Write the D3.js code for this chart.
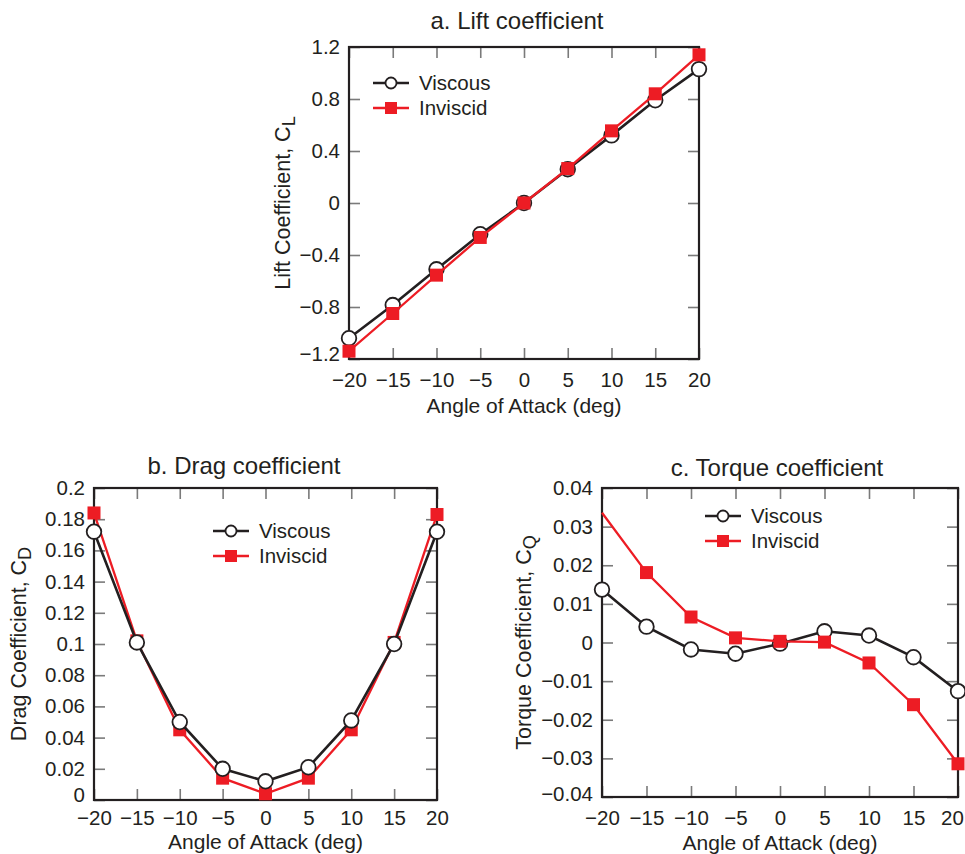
<!DOCTYPE html>
<html>
<head>
<meta charset="utf-8">
<script src="https://cdn.jsdelivr.net/npm/d3@7"></script>
<style>
  body { margin: 0; background: #fff; }
  svg { display: block; font-family: "Liberation Sans", Arial, sans-serif; }
</style>
</head>
<body>
<div id="chart"></div>
<script>
// angle of attack, deg
const angles = [-20, -15, -10, -5, 0, 5, 10, 15, 20];

const liftViscous = [-1.04, -0.785, -0.51, -0.24, 0, 0.26, 0.52, 0.79, 1.03];
const liftInviscid = [-1.14, -0.85, -0.555, -0.265, 0, 0.265, 0.555, 0.84, 1.14];
const dragViscous = [0.172, 0.101, 0.050, 0.020, 0.012, 0.021, 0.051, 0.100, 0.172];
const dragInviscid = [0.184, 0.102, 0.045, 0.014, 0.004, 0.014, 0.045, 0.101, 0.183];
const torqueViscous = [0.0137, 0.0041, -0.0018, -0.0029, -0.0003, 0.0029, 0.0018, -0.0038, -0.0126];
const torqueInviscid = [0.0336, 0.0181, 0.0066, 0.0012, 0.0003, 0.0001, -0.0053, -0.0161, -0.0314];

const xTicks = [-20, -15, -10, -5, 0, 5, 10, 15, 20];
const liftTicks = [-1.2, -0.8, -0.4, 0, 0.4, 0.8, 1.2];
const dragTicks = [0, 0.02, 0.04, 0.06, 0.08, 0.1, 0.12, 0.14, 0.16, 0.18, 0.2];
const torqueTicks = [-0.04, -0.03, -0.02, -0.01, 0, 0.01, 0.02, 0.03, 0.04];

const seriesNames = ['Viscous', 'Inviscid'];

const ink = '#231f20';
const red = '#ed1c24';
const tickGray = '#7a7a7a';

const svg = d3.select('#chart').append('svg')
  .attr('width', 965)
  .attr('height', 854);

const panels = [
  {title: 'a. Lift coefficient', sub: 'L', name: 'Lift Coefficient, C',
   left: 349, top: 47, width: 350, height: 312, domain: [-1.2, 1.2], ticks: liftTicks,
   viscous: liftViscous, inviscid: liftInviscid, titleX: 517, titleY: 29, yLabelOff: 67,
   xPad: 13, xLabelOff: 54, lastShift: 0, firstLift: -5,
   legend: [373, 83], viscousOnTop: false, skip: []},
  {title: 'b. Drag coefficient', sub: 'D', name: 'Drag Coefficient, C',
   left: 94, top: 488, width: 343, height: 312, domain: [0, 0.2], ticks: dragTicks,
   viscous: dragViscous, inviscid: dragInviscid, titleX: 244, titleY: 474, yLabelOff: 76,
   xPad: 10, xLabelOff: 49, lastShift: 0, firstLift: -5,
   legend: [213, 531], viscousOnTop: true, skip: []},
  {title: 'c. Torque coefficient', sub: 'Q', name: 'Torque Coefficient, C',
   left: 602, top: 488, width: 356, height: 309, domain: [-0.04, 0.04], ticks: torqueTicks,
   viscous: torqueViscous, inviscid: torqueInviscid, titleX: 777, titleY: 476, yLabelOff: 79,
   xPad: 13, xLabelOff: 53, lastShift: -6, firstLift: -3,
   legend: [705, 516], viscousOnTop: false, skip: [0]}
];

const fmt = d3.format('~g');

let drawPanel = (p) => {
  const g = svg.append('g')
    .attr('transform', 'translate(' + p.left + ',' + p.top + ')');

  const x = d3.scaleLinear().domain([-20, 20]).range([0, p.width]);
  const y = d3.scaleLinear().domain(p.domain).range([p.height, 0]);

  // inward ticks on all four sides
  const axes = [
    {ax: d3.axisBottom(x).tickValues(xTicks).tickFormat(fmt).tickPadding(p.xPad), t: [0, p.height], side: 'b'},
    {ax: d3.axisTop(x).tickValues(xTicks).tickFormat(''), t: [0, 0]},
    {ax: d3.axisLeft(y).tickValues(p.ticks).tickFormat(fmt).tickPadding(9), t: [0, 0], side: 'l'},
    {ax: d3.axisRight(y).tickValues(p.ticks).tickFormat(''), t: [p.width, 0]}
  ];
  axes.forEach(a => {
    const ag = g.append('g')
      .attr('transform', 'translate(' + a.t[0] + ',' + a.t[1] + ')')
      .call(a.ax.tickSizeInner(-11).tickSizeOuter(0));
    ag.select('.domain').remove();
    ag.selectAll('line').attr('stroke', tickGray).attr('stroke-width', 1.6);
    ag.selectAll('text')
      .style('font-size', '20.5px')
      .attr('fill', ink)
      .style('font-family', '"Liberation Sans", Arial, sans-serif');
    if (a.side === 'b') {
      ag.selectAll('text').filter(d => d === 20).attr('dx', p.lastShift);
    }
    if (a.side === 'l') {
      // lowest label sits a little above the corner
      ag.selectAll('text').filter(d => d === p.domain[0]).attr('y', p.firstLift);
    }
  });

  g.append('rect')
    .attr('width', p.width)
    .attr('height', p.height)
    .attr('fill', 'none')
    .attr('stroke', ink)
    .attr('stroke-width', 2.2);

  // titles and labels
  svg.append('text')
    .attr('x', p.titleX)
    .attr('y', p.titleY)
    .attr('text-anchor', 'middle')
    .attr('fill', ink)
    .style('font-size', '24px')
    .text(p.title);

  g.append('text')
    .attr('x', p.width / 2)
    .attr('y', p.height + p.xLabelOff)
    .attr('text-anchor', 'middle')
    .attr('fill', ink)
    .style('font-size', '21px')
    .text('Angle of Attack (deg)');

  const yl = g.append('text')
    .attr('transform', 'translate(' + (-p.yLabelOff) + ',' + (p.height / 2) + ') rotate(-90)')
    .attr('text-anchor', 'middle')
    .attr('dy', '0.35em')
    .attr('fill', ink)
    .style('font-size', '21.5px');
  yl.append('tspan').text(p.name);
  yl.append('tspan').attr('dy', '0.3em').style('font-size', '18px').text(p.sub);

  const line = d3.line().x((d, i) => x(angles[i])).y(d => y(d));

  let drawViscous = () => {
    g.append('path')
      .datum(p.viscous)
      .attr('d', line)
      .attr('fill', 'none')
      .attr('stroke', ink)
      .attr('stroke-width', 2.6);
    g.selectAll('.vc')
      .data(p.viscous)
      .enter().append('circle')
      .attr('class', 'vc')
      .attr('cx', (d, i) => x(angles[i]))
      .attr('cy', d => y(d))
      .attr('r', 7.3)
      .attr('fill', '#fff')
      .attr('stroke', ink)
      .attr('stroke-width', 1.8);
  };

  let drawInviscid = () => {
    g.append('path')
      .datum(p.inviscid)
      .attr('d', line)
      .attr('fill', 'none')
      .attr('stroke', red)
      .attr('stroke-width', 2.3);
    g.selectAll('.iv')
      .data(p.inviscid.map((v, i) => ({v, i})).filter(d => p.skip.indexOf(d.i) < 0))
      .enter().append('rect')
      .attr('class', 'iv')
      .attr('x', d => x(angles[d.i]) - 6.5)
      .attr('y', d => y(d.v) - 6.5)
      .attr('width', 13)
      .attr('height', 13)
      .attr('fill', red);
  };

  if (p.viscousOnTop) { drawInviscid(); drawViscous(); }
  else { drawViscous(); drawInviscid(); }

  // legend
  const lg = svg.append('g')
    .attr('transform', 'translate(' + p.legend[0] + ',' + p.legend[1] + ')');
  seriesNames.forEach((name, k) => {
    const row = lg.append('g').attr('transform', 'translate(0,' + (k * 25) + ')');
    row.append('line')
      .attr('x1', 0).attr('x2', 36)
      .attr('stroke', k === 0 ? ink : red)
      .attr('stroke-width', k === 0 ? 2.6 : 2.3);
    if (k === 0) {
      row.append('circle')
        .attr('cx', 18).attr('r', 5.5)
        .attr('fill', '#fff').attr('stroke', ink).attr('stroke-width', 1.8);
    } else {
      row.append('rect')
        .attr('x', 12).attr('y', -6).attr('width', 12).attr('height', 12)
        .attr('fill', red);
    }
    row.append('text')
      .attr('x', 46)
      .attr('dy', '0.35em')
      .attr('fill', ink)
      .style('font-size', '20.5px')
      .text(name);
  });
};

panels.forEach(drawPanel);
</script>
</body>
</html>
